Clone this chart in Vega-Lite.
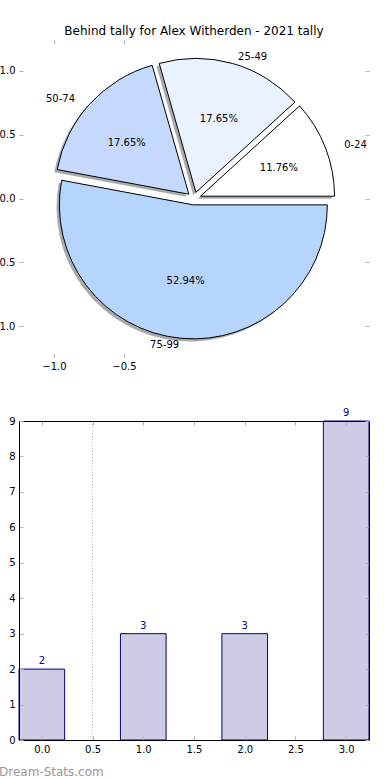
{
  "$schema": "https://vega.github.io/schema/vega-lite/v6.json",
  "padding": {"left": -10, "top": 24, "right": 0, "bottom": 0},
  "config": {
    "font": "DejaVu Sans",
    "view": {"stroke": null},
    "axis": {"grid": false, "labelFont": "DejaVu Sans", "labelFontSize": 10, "labelColor": "black", "tickColor": "#b0b0b0", "tickSize": -4, "labelPadding": 8, "domain": false}
  },
  "datasets": {
    "tally": [
      {"bin": 0, "label": "0-24", "count": 2},
      {"bin": 1, "label": "25-49", "count": 3},
      {"bin": 2, "label": "50-74", "count": 3},
      {"bin": 3, "label": "75-99", "count": 9}
    ],
    "marker": [{"v": 0.5}]
  },
  "spacing": 64,
  "bounds": "flush",
  "vconcat": [
    {
      "width": 350,
      "height": 317,
      "title": {"text": "Behind tally for Alex Witherden - 2021 tally", "fontSize": 12, "fontWeight": "normal", "color": "black", "offset": 2},
      "data": {"name": "tally"},
      "transform": [
        {"joinaggregate": [{"op": "sum", "field": "count", "as": "total"}]},
        {"stack": "count", "groupby": [], "sort": [{"field": "bin", "order": "ascending"}], "as": ["c0", "c1"]},
        {"calculate": "datum.c0/datum.total", "as": "f0"},
        {"calculate": "datum.c1/datum.total", "as": "f1"},
        {"calculate": "PI*(datum.f0+datum.f1)", "as": "mid"},
        {"calculate": "0.05*cos(datum.mid)", "as": "cx"},
        {"calculate": "0.05*sin(datum.mid)", "as": "cy"},
        {"calculate": "datum.cx-0.02", "as": "sx"},
        {"calculate": "datum.cy-0.02", "as": "sy"},
        {"calculate": "datum.cx+1.1*cos(datum.mid)", "as": "lx"},
        {"calculate": "datum.cy+1.1*sin(datum.mid)", "as": "ly"},
        {"calculate": "datum.cx+0.6*cos(datum.mid)", "as": "px"},
        {"calculate": "datum.cy+0.6*sin(datum.mid)", "as": "py"},
        {"calculate": "format(100*datum.count/datum.total, '.2f') + '%'", "as": "pct"}
      ],
      "layer": [
        {
          "mark": {"type": "arc", "radius": 134, "fill": "#555555", "opacity": 0.5},
          "encoding": {
            "x": {"field": "sx", "type": "quantitative", "title": null, "scale": {"domain": [-1.25, 1.25], "nice": false, "zero": false}, "axis": {"orient": "top", "values": [-1, -0.5], "labels": false}},
            "y": {"field": "sy", "type": "quantitative", "title": null, "scale": {"domain": [-1.24, 1.24], "nice": false, "zero": false}, "axis": {"orient": "right", "values": [-1, -0.5, 0, 0.5, 1], "labels": false}},
            "theta": {"field": "f0", "type": "quantitative", "stack": null, "scale": {"domain": [0, 1], "range": [1.5708, -4.7124]}},
            "theta2": {"field": "f1"}
          }
        },
        {
          "mark": {"type": "arc", "radius": 134, "stroke": "black", "strokeWidth": 1},
          "encoding": {
            "x": {"field": "cx", "type": "quantitative", "title": null, "axis": {"orient": "bottom", "values": [-1, -0.5], "format": ".1f"}},
            "y": {"field": "cy", "type": "quantitative", "title": null, "axis": {"orient": "left", "values": [-1, -0.5, 0, 0.5, 1], "format": ".1f"}},
            "theta": {"field": "f0", "type": "quantitative", "stack": null, "scale": {"domain": [0, 1], "range": [1.5708, -4.7124]}},
            "theta2": {"field": "f1"},
            "color": {"field": "label", "type": "nominal", "legend": null, "scale": {"domain": ["0-24", "25-49", "50-74", "75-99"], "range": ["#ffffff", "#eaf2ff", "#c5d9ff", "#b5d5ff"]}}
          }
        },
        {
          "mark": {"type": "text", "fontSize": 10, "align": "center", "baseline": "middle", "color": "black"},
          "encoding": {
            "x": {"field": "px", "type": "quantitative", "axis": null},
            "y": {"field": "py", "type": "quantitative", "axis": null},
            "text": {"field": "pct"}
          }
        },
        {
          "transform": [{"filter": "datum.lx > 0"}],
          "mark": {"type": "text", "fontSize": 10, "align": "left", "baseline": "middle", "color": "black"},
          "encoding": {
            "x": {"field": "lx", "type": "quantitative", "axis": null},
            "y": {"field": "ly", "type": "quantitative", "axis": null},
            "text": {"field": "label"}
          }
        },
        {
          "transform": [{"filter": "datum.lx <= 0"}],
          "mark": {"type": "text", "fontSize": 10, "align": "right", "baseline": "middle", "color": "black"},
          "encoding": {
            "x": {"field": "lx", "type": "quantitative", "axis": null},
            "y": {"field": "ly", "type": "quantitative", "axis": null},
            "text": {"field": "label"}
          }
        }
      ],
      "resolve": {"axis": {"x": "independent", "y": "independent"}}
    },
    {
      "width": 350,
      "height": 319,
      "title": {"text": "Dream-Stats.com", "orient": "bottom", "anchor": "start", "frame": "group", "dx": -20, "fontSize": 12, "fontWeight": "normal", "color": "#999999", "offset": 13},
      "data": {"name": "tally"},
      "transform": [
        {"calculate": "datum.bin-0.225", "as": "b0"},
        {"calculate": "datum.bin+0.225", "as": "b1"}
      ],
      "layer": [
        {
          "data": {"name": "marker"},
          "mark": {"type": "rule", "color": "#bbbbbb", "strokeDash": [1, 2], "strokeWidth": 1},
          "encoding": {
            "x": {"field": "v", "type": "quantitative", "title": null, "scale": {"domain": [-0.225, 3.225], "nice": false, "zero": false}, "axis": null}
          }
        },
        {
          "mark": {"type": "bar", "fill": "#ccccE5", "stroke": "#00008b", "strokeWidth": 1},
          "encoding": {
            "x": {"field": "b0", "type": "quantitative", "title": null, "scale": {"domain": [-0.225, 3.225], "nice": false, "zero": false}, "axis": {"orient": "bottom", "values": [0, 0.5, 1, 1.5, 2, 2.5, 3], "format": ".1f", "domain": true, "domainColor": "black", "zindex": 1}},
            "x2": {"field": "b1"},
            "y": {"field": "count", "type": "quantitative", "title": null, "scale": {"domain": [0, 9], "nice": false}, "axis": {"orient": "left", "values": [0, 1, 2, 3, 4, 5, 6, 7, 8, 9], "domain": true, "domainColor": "black", "zindex": 1}},
            "y2": {"datum": 0}
          }
        },
        {
          "mark": {"type": "text", "color": "#00008b", "fontSize": 10, "baseline": "bottom", "dy": -3},
          "encoding": {
            "x": {"field": "bin", "type": "quantitative", "title": null, "axis": {"orient": "top", "values": [0, 0.5, 1, 1.5, 2, 2.5, 3], "labels": false, "domain": true, "domainColor": "black", "zindex": 1}},
            "y": {"field": "count", "type": "quantitative", "title": null, "axis": {"orient": "right", "values": [0, 1, 2, 3, 4, 5, 6, 7, 8, 9], "labels": false, "domain": true, "domainColor": "black", "zindex": 1}},
            "text": {"field": "count"}
          }
        }
      ],
      "resolve": {"axis": {"x": "independent", "y": "independent"}}
    }
  ]
}
